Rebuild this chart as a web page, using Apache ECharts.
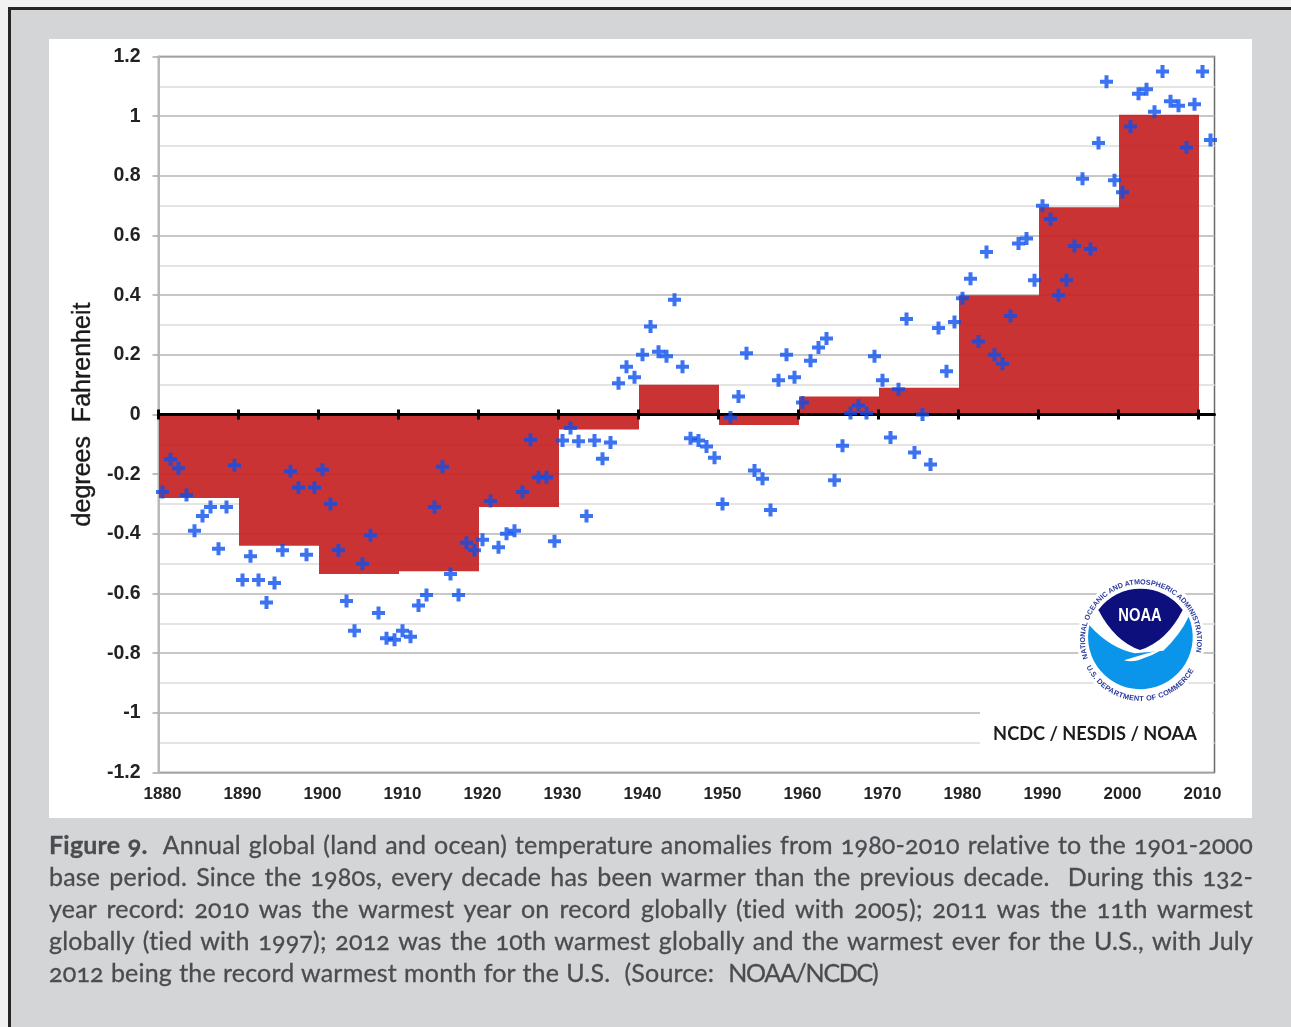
<!DOCTYPE html>
<html><head><meta charset="utf-8">
<script src="https://cdn.jsdelivr.net/npm/echarts@6/dist/echarts.min.js"></script>
<style>
html,body{margin:0;padding:0;width:1291px;height:1027px;overflow:hidden;background:#f1f1f1}
#frame{position:absolute;left:8px;top:7px;width:1400px;height:1100px;border:3px solid #262626;background:#d4d5d7}
#panel{position:absolute;left:49px;top:39px;width:1203px;height:779px;background:#fff}
#chart{position:absolute;left:0;top:0;width:1291px;height:1027px}
#logo{position:absolute;left:1060px;top:560px;width:170px;height:200px}
#caption{position:absolute;left:49px;top:828px;width:1204px;font-family:Lato,"Noto Sans",sans-serif;font-size:25px;line-height:32px;letter-spacing:.2px;color:#4a4c50;-webkit-text-stroke:.3px #4a4c50;font-feature-settings:"onum" 1,"liga" 0;font-variant-numeric:oldstyle-nums;font-variant-ligatures:none}
#caption div{text-align:justify;text-align-last:justify;white-space:normal}
#caption div.last{text-align-last:left;word-spacing:.5px}
#caption span{letter-spacing:-1.3px}
</style></head><body>
<div id="frame"></div><div id="panel"></div><div id="chart"></div>
<svg id="logo" viewBox="0 0 510 600">
<defs>
<path id="arcTop" d="M84 295 A168 168 0 1 1 402 295"/>
<path id="arcBottom" d="M79 321 A183 183 0 0 0 407 321"/>
</defs>
<circle cx="243" cy="240" r="192" fill="#fff"/>
<path fill="#0a94ea" d="M88 196 Q150 265 225 280 L310 272 Q360 225 386 170 A157 157 0 1 1 88 196 Z"/>
<path fill="#0d0f7c" d="M115 150 A157 157 0 0 1 368 150 Q320 245 240 270 Q165 245 115 150 Z"/>
<path fill="#fff" d="M192 301 Q240 285 312 266 Q275 288 235 301 Q210 307 192 301 Z"/>
<text x="240" y="184" font-family="Liberation Sans" font-weight="700" font-size="54" fill="#fff" text-anchor="middle" textLength="130" lengthAdjust="spacingAndGlyphs">NOAA</text>
<text font-family="Liberation Sans" font-weight="700" font-size="21.5" fill="#2a3a9e"><textPath href="#arcTop">NATIONAL OCEANIC AND ATMOSPHERIC ADMINISTRATION</textPath></text>
<text font-family="Liberation Sans" font-weight="700" font-size="22" fill="#2a3a9e"><textPath href="#arcBottom" textLength="395">U.S. DEPARTMENT OF COMMERCE</textPath></text>
</svg>
<div id="caption">
<div><b>Figure 9.</b>&nbsp; Annual global (land and ocean) temperature anomalies from 1980-2010 relative to the 1901-2000</div>
<div>base period. Since the 1980s, every decade has been warmer than the previous decade.&nbsp; During this 132-</div>
<div>year record: 2010 was the warmest year on record globally (tied with 2005); 2011 was the 11th warmest</div>
<div>globally (tied with 1997); 2012 was the 10th warmest globally and the warmest ever for the U.S., with July</div>
<div class="last">2012 being the record warmest month for the U.S.&nbsp; (Source:&nbsp; <span>NOAA/NCDC)</span></div>
</div>
<script>
const firstYear = 1880;
const annualAnomalies = [
-0.26,-0.15,-0.18,-0.27,-0.39,-0.34,-0.31,-0.45,-0.31,-0.17,
-0.555,-0.475,-0.555,-0.63,-0.565,-0.455,-0.19,-0.245,-0.47,-0.245,
-0.185,-0.30,-0.455,-0.625,-0.725,-0.50,-0.405,-0.665,-0.75,-0.755,
-0.725,-0.745,-0.64,-0.605,-0.31,-0.175,-0.535,-0.605,-0.43,-0.455,
-0.42,-0.29,-0.445,-0.40,-0.39,-0.26,-0.085,-0.21,-0.21,-0.425,
-0.087,-0.045,-0.09,-0.34,-0.087,-0.148,-0.094,0.105,0.16,0.125,
0.20,0.295,0.21,0.195,0.385,0.16,-0.08,-0.087,-0.107,-0.145,
-0.30,-0.01,0.06,0.205,-0.188,-0.215,-0.32,0.115,0.20,0.125,
0.04,0.18,0.225,0.255,-0.22,-0.105,0.005,0.03,0.005,0.195,
0.115,-0.077,0.085,0.32,-0.127,0,-0.168,0.29,0.145,0.31,
0.39,0.455,0.245,0.545,0.20,0.17,0.33,0.573,0.59,0.45,
0.70,0.655,0.40,0.45,0.565,0.79,0.555,0.91,1.115,0.785,
0.745,0.965,1.075,1.09,1.015,1.15,1.05,1.035,0.895,1.04,
1.15,0.92];
const decadeMeans = [-0.28,-0.44,-0.535,-0.525,-0.31,-0.05,0.10,-0.035,0.06,0.09,0.40,0.695,1.005];
const years = annualAnomalies.map((_, i) => String(firstYear + i));
const decadeStarts = years.filter((y) => +y % 10 === 0);
const decadeData = decadeMeans.map((v, i) => [decadeStarts[i], v]);

const plus = 'path://M4.5 0h4v4.5h4.5v4H8.5v4.5h-4V8.5H0v-4h4.5z';
const chart = echarts.init(document.getElementById('chart'), null, {renderer:'canvas'});
chart.setOption({
  animation:false,
  backgroundColor:'transparent',
  grid:{left:158.5,top:56.5,width:1056,height:716,show:true,borderColor:'#6a6a6a',borderWidth:1.5,backgroundColor:'transparent'},
  xAxis:[
    {type:'category',data:years,position:'top',boundaryGap:true,z:2,
     axisLine:{onZero:true,lineStyle:{color:'#000',width:3}},axisTick:{show:false},axisLabel:{show:false},splitLine:{show:false}},
    {type:'category',data:years,position:'bottom',boundaryGap:true,
     axisLine:{onZero:false,show:false},axisTick:{show:false},splitLine:{show:false},
     axisLabel:{interval:9,margin:13,color:'#222',fontFamily:'Liberation Sans',fontWeight:'bold',fontSize:17}}
  ],
  yAxis:{type:'value',min:-1.2,max:1.2,interval:0.2,
    name:'degrees  Fahrenheit',nameLocation:'middle',nameGap:52,
    nameTextStyle:{fontFamily:'Liberation Sans',fontSize:25,color:'#1a1a1a',textBorderColor:'#1a1a1a',textBorderWidth:0.4},
    axisLine:{show:true,onZero:false,lineStyle:{color:'#b8b8b8',width:2}},
    axisTick:{show:true,length:6,lineStyle:{color:'#a8a8a8',width:1.5}},
    axisLabel:{margin:18,color:'#222',fontFamily:'Liberation Sans',fontWeight:'bold',fontSize:19.5},
    splitLine:{show:true,lineStyle:{color:'#b4b4b4',width:1.5}},
    minorTick:{show:false,splitNumber:2},
    minorSplitLine:{show:true,lineStyle:{color:'#e4e4e4',width:2}}},
  graphic:[
    {type:'rect',z:1,shape:{x:980,y:700,width:232.5,height:70.5},style:{fill:'#fff'}},
    {type:'text',z:1,x:1095,y:734,style:{text:'NCDC / NESDIS / NOAA',fill:'#1c1c1c',font:'700 18.2px Lato',align:'center',verticalAlign:'middle'}}
  ],
  series:[
    {name:'Decadal mean',type:'custom',xAxisIndex:0,z:1,silent:true,
      data:decadeData,encode:{x:0,y:1},
      renderItem:(params, api) => {
        const top = api.coord([api.value(0), api.value(1)]);
        const zero = api.coord([api.value(0), 0]);
        const band = api.size([1, 0])[0];
        const left = Math.round(top[0] - band / 2);
        const right = Math.round(top[0] - band / 2 + band * 10);
        return {type:'rect',shape:{x:left,y:Math.min(top[1],zero[1]),width:right-left,height:Math.abs(top[1]-zero[1])},style:{fill:'rgba(197,36,36,0.93)'}};
      }},
    {name:'Decade ticks',type:'custom',xAxisIndex:0,z:2,silent:true,
      data:decadeStarts.map((y) => [y, 0]),encode:{x:0,y:1},
      renderItem:(params, api) => {
        const c = api.coord([api.value(0), 0]);
        const x = c[0] - api.size([1, 0])[0] / 2;
        return {type:'line',shape:{x1:x,y1:c[1]-5,x2:x,y2:c[1]+5},style:{stroke:'#000',lineWidth:3}};
      }},
    {name:'Annual anomaly',type:'scatter',xAxisIndex:0,data:annualAnomalies,symbol:plus,symbolSize:13,z:3,
      itemStyle:{color:'#0a50f0'}}
  ]
});
</script>
</body></html>
